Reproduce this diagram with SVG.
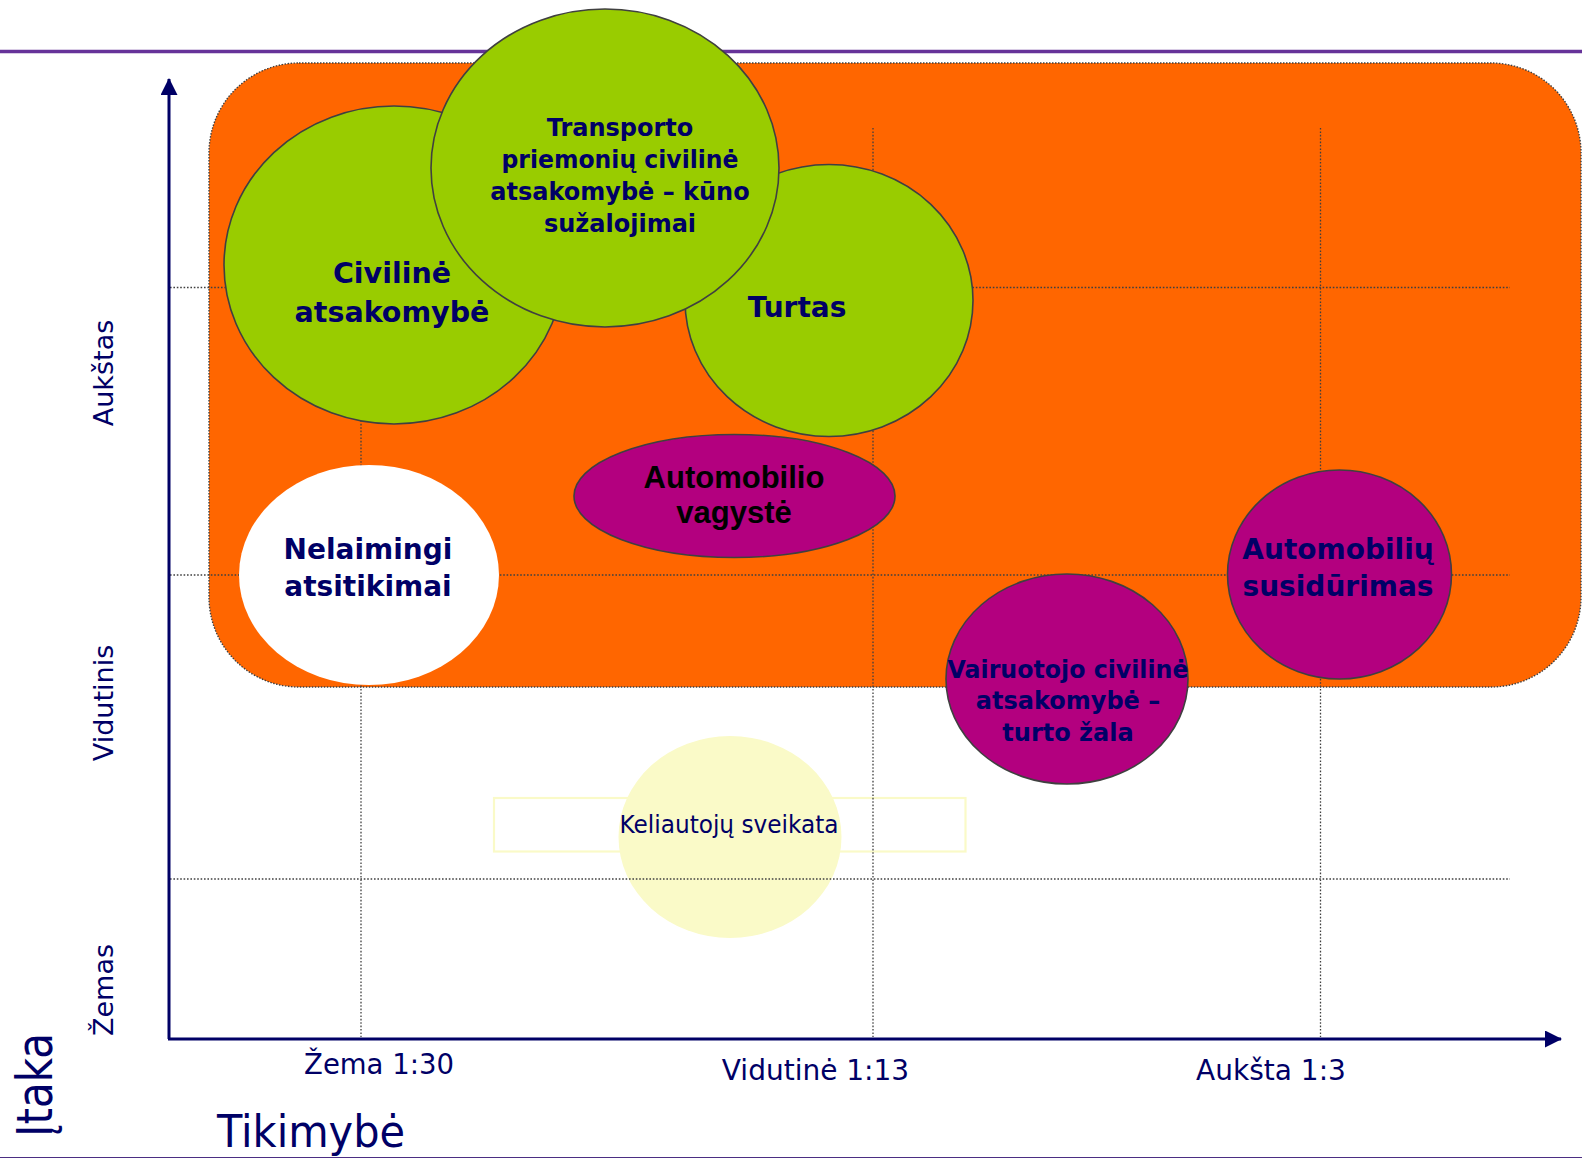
<svg xmlns="http://www.w3.org/2000/svg" width="1582" height="1158" viewBox="0 0 1582 1158">
<style>
  .grid { stroke: #404040; stroke-width: 1.3; stroke-dasharray: 1.6 1.8; fill: none; }
  .axis { stroke: #000066; stroke-width: 3; fill: none; }
  .green { fill: #99CC00; stroke: #404040; stroke-width: 1.6; }
  .mag { fill: #B3007F; stroke: #404040; stroke-width: 1.6; }
  .lbl { font-family: "DejaVu Sans", Verdana, sans-serif; fill: #000066; }
  .bold { font-family: "DejaVu Sans", Verdana, sans-serif; font-weight: bold; fill: #000066; text-anchor: middle; }
  .arial { font-family: "Liberation Sans", Arial, sans-serif; font-weight: bold; fill: #000000; text-anchor: middle; }
</style>
<defs>
  <marker id="arr" markerWidth="17" markerHeight="17" refX="16" refY="8.5" orient="auto" markerUnits="userSpaceOnUse">
    <path d="M0,0 L17,8.5 L0,17 Z" fill="#000066"/>
  </marker>
</defs>
<rect width="1582" height="1158" fill="#ffffff"/>
<line x1="0" y1="51.5" x2="1582" y2="51.5" stroke="#663399" stroke-width="3.5"/>
<line x1="0" y1="1157.5" x2="1582" y2="1157.5" stroke="#4B2E83" stroke-width="1"/>

<g id="zone">
  <rect x="209" y="63" width="1372" height="624" rx="90" ry="90" fill="#FF6600" stroke="#404040" stroke-width="1.4" stroke-dasharray="1.5 1.5"/>
</g>

<g id="node-keliautoju">
  <ellipse cx="730" cy="837" rx="111.5" ry="101" fill="#FAFAC8"/>
  <rect x="494" y="798" width="471.5" height="53.5" fill="none" stroke="#FAFAC8" stroke-width="2.2"/>
  <text class="lbl" x="729" y="833" font-size="24" text-anchor="middle" textLength="219" lengthAdjust="spacingAndGlyphs">Keliautojų sveikata</text>
</g>

<g id="grid">
  <line class="grid" x1="170" y1="287.5" x2="1510" y2="287.5"/>
  <line class="grid" x1="170" y1="575" x2="1510" y2="575"/>
  <line class="grid" x1="170" y1="879" x2="1510" y2="879"/>
  <line class="grid" x1="361" y1="128" x2="361" y2="1037"/>
  <line class="grid" x1="873" y1="128" x2="873" y2="1037"/>
  <line class="grid" x1="1320.5" y1="128" x2="1320.5" y2="1037"/>
</g>

<g id="connectors">
  <line class="axis" x1="169" y1="1039" x2="169" y2="79" marker-end="url(#arr)"/>
  <line class="axis" x1="168" y1="1039" x2="1561" y2="1039" marker-end="url(#arr)"/>
</g>

<g id="node-civiline">
  <ellipse class="green" cx="394" cy="265" rx="170" ry="159"/>
  <text class="bold" x="392" y="283" font-size="28.5">Civilinė</text>
  <text class="bold" x="392" y="322" font-size="28.5">atsakomybė</text>
</g>

<g id="node-turtas">
  <ellipse class="green" cx="829" cy="300.5" rx="144" ry="136"/>
  <text class="bold" x="797" y="317" font-size="28">Turtas</text>
</g>

<g id="node-transporto">
  <ellipse class="green" cx="605" cy="168" rx="174" ry="159"/>
  <text class="bold" x="620" y="136" font-size="24">Transporto</text>
  <text class="bold" x="620" y="168" font-size="24" textLength="237" lengthAdjust="spacingAndGlyphs">priemonių civilinė</text>
  <text class="bold" x="620" y="200" font-size="24">atsakomybė – kūno</text>
  <text class="bold" x="620" y="232" font-size="24">sužalojimai</text>
</g>

<g id="node-vagyste">
  <ellipse class="mag" cx="734.5" cy="496" rx="160.5" ry="61.5"/>
  <text class="arial" x="734" y="488" font-size="31">Automobilio</text>
  <text class="arial" x="734" y="523" font-size="31">vagystė</text>
</g>

<g id="node-nelaimingi">
  <ellipse cx="369" cy="575" rx="130" ry="110" fill="#ffffff"/>
  <text class="bold" x="368" y="559" font-size="28">Nelaimingi</text>
  <text class="bold" x="368" y="596" font-size="28">atsitikimai</text>
</g>

<g id="node-susidurimas">
  <ellipse class="mag" cx="1339.5" cy="574.5" rx="112" ry="104.5"/>
  <text class="bold" x="1338" y="559" font-size="28">Automobilių</text>
  <text class="bold" x="1338" y="596" font-size="28">susidūrimas</text>
</g>

<g id="node-vairuotojo">
  <ellipse class="mag" cx="1067" cy="679" rx="121" ry="105"/>
  <text class="bold" x="1068" y="678" font-size="24" textLength="241" lengthAdjust="spacingAndGlyphs">Vairuotojo civilinė</text>
  <text class="bold" x="1068" y="709" font-size="24">atsakomybė –</text>
  <text class="bold" x="1068" y="741" font-size="24">turto žala</text>
</g>

<g id="labels">
  <text class="lbl" transform="translate(113,373) rotate(-90)" font-size="27" text-anchor="middle">Aukštas</text>
  <text class="lbl" transform="translate(113,703) rotate(-90)" font-size="27" text-anchor="middle">Vidutinis</text>
  <text class="lbl" transform="translate(113,990) rotate(-90)" font-size="27" text-anchor="middle">Žemas</text>
  <text class="lbl" transform="translate(52,1085) rotate(-90)" font-size="50" text-anchor="middle" textLength="104" lengthAdjust="spacingAndGlyphs">Įtaka</text>
  <text class="lbl" x="217" y="1147" font-size="44" textLength="188" lengthAdjust="spacingAndGlyphs">Tikimybė</text>
  <text class="lbl" x="379" y="1074" font-size="27.5" text-anchor="middle">Žema 1:30</text>
  <text class="lbl" x="815.5" y="1080" font-size="28" text-anchor="middle">Vidutinė 1:13</text>
  <text class="lbl" x="1271" y="1080" font-size="28" text-anchor="middle">Aukšta 1:3</text>
</g>
</svg>
